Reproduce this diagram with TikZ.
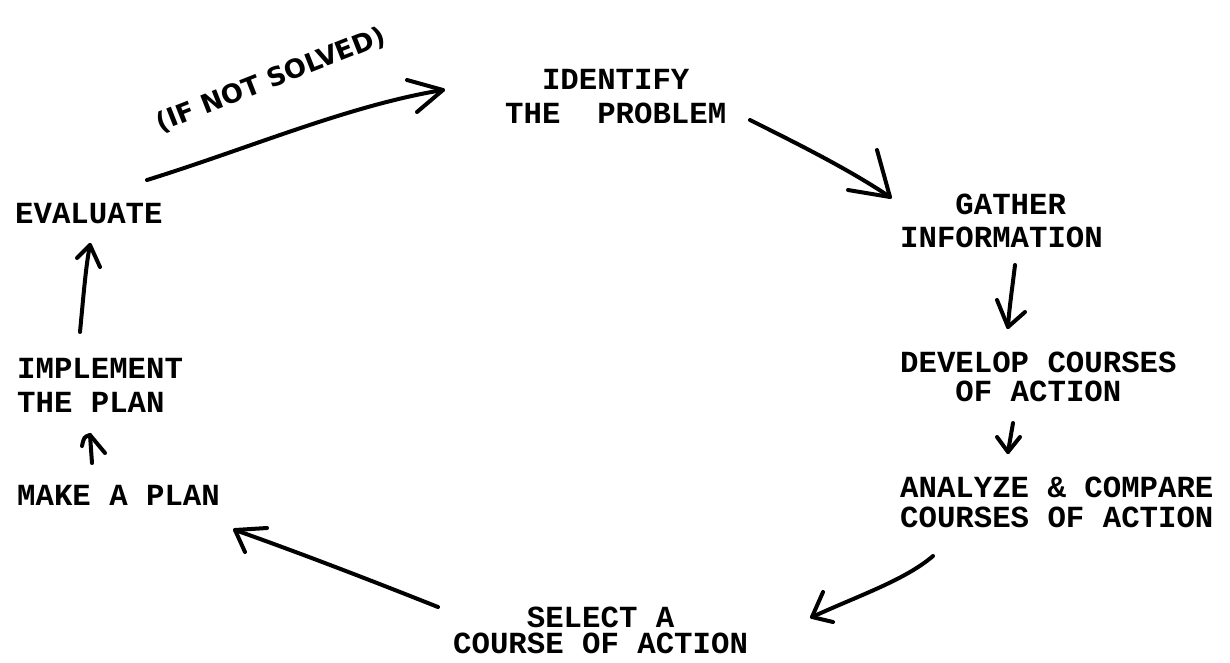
\documentclass[tikz,border=0pt]{standalone}
\usepackage{fontspec}
\newfontfamily\typefont{Liberation Mono}
\newfontfamily\handfont{DejaVu Sans}
\begin{document}
\begin{tikzpicture}[x=1pt, y=-1pt,
  typed/.style={font=\typefont\bfseries\fontsize{30.7}{31}\selectfont,
    inner sep=0pt, anchor=base west, align=left},
  pen/.style={line width=4pt, line cap=round, line join=round},
  hand/.style={font=\handfont\bfseries\fontsize{26}{30}\selectfont, inner sep=0pt}]
\useasboundingbox (0,0) rectangle (1230,662);

% typed step labels (placed by the baseline of their last line)
\node[typed] (identify) at (505,123)  {\phantom{XX}IDENTIFY\\[3pt]THE\ \ PROBLEM};
\node[typed] (gather)   at (900,247)  {\phantom{XXX}GATHER\\[2pt]INFORMATION};
\node[typed] (develop)  at (900,401)  {DEVELOP COURSES\\[-2pt]\phantom{XXX}OF ACTION};
\node[typed] (analyze)  at (900,527)  {ANALYZE \& COMPARE\\[-1pt]COURSES OF ACTION};
\node[typed] (select)   at (453,653)  {\phantom{XXXX}SELECT A\\[-5pt]COURSE OF ACTION};
\node[typed] (plan)     at (17,505)   {MAKE A PLAN};
\node[typed] (implement) at (17,412)  {IMPLEMENT\\[3pt]THE PLAN};
\node[typed] (evaluate) at (15,223)   {EVALUATE};

% end points of the hand-drawn arrows
\coordinate (ev-out) at (147,180);  \coordinate (id-in) at (443,90);
\coordinate (id-out) at (750,120);  \coordinate (ga-in) at (890,197);
\coordinate (ga-out) at (1015,265); \coordinate (de-in) at (1008,327);
\coordinate (de-out) at (1013,423); \coordinate (an-in) at (1008,452);
\coordinate (an-out) at (933,556);  \coordinate (se-in) at (812,617);
\coordinate (se-out) at (438,607);  \coordinate (pl-in) at (235,530);
\coordinate (pl-out) at (92,463);   \coordinate (im-in) at (90,435);
\coordinate (im-out) at (80,332);   \coordinate (ev-in) at (90,245);

% evaluate -> identify (loop back)
\draw[pen] (ev-out) .. controls (250,148) and (350,105) .. (id-in);
\draw[pen] (407,80) -- (id-in) -- (417,112);
\node[hand, rotate=21.5] (notsolved) at (271,80) {(IF NOT SOLVED)};

% identify -> gather
\draw[pen] (id-out) .. controls (800,145) and (850,170) .. (ga-in);
\draw[pen] (877,150) -- (ga-in) -- (848,190);

% gather -> develop
\draw[pen] (ga-out) .. controls (1012,290) and (1009,310) .. (de-in);
\draw[pen] (997,300) -- (de-in) -- (1025,312);

% develop -> analyze
\draw[pen] (de-out) -- (an-in);
\draw[pen] (997,437) -- (an-in) -- (1020,437);

% analyze -> select
\draw[pen] (an-out) .. controls (905,580) and (860,595) .. (se-in);
\draw[pen] (823,592) -- (se-in) -- (833,622);

% select -> make a plan
\draw[pen] (se-out) .. controls (370,580) and (300,553) .. (pl-in);
\draw[pen] (267,528) -- (pl-in) -- (245,552);

% make a plan -> implement
\draw[pen] (pl-out) -- (im-in);
\draw[pen] (82,446) .. controls (84,437) .. (im-in) -- (105,453);

% implement -> evaluate
\draw[pen] (im-out) .. controls (84,290) and (86,265) .. (ev-in);
\draw[pen] (77,258) -- (ev-in) -- (100,267);
\end{tikzpicture}
\end{document}
